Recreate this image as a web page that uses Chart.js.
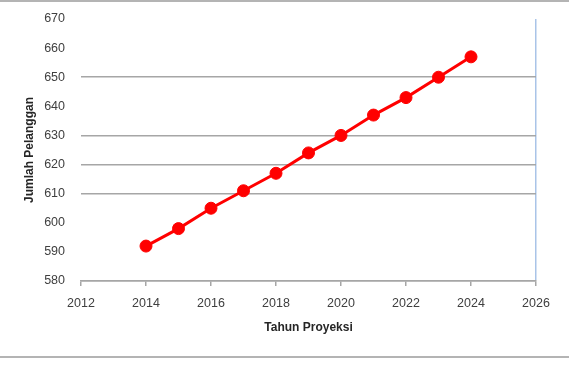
<!DOCTYPE html>
<html>
<head>
<meta charset="utf-8">
<script src="https://cdn.jsdelivr.net/npm/chart.js@4/dist/chart.umd.min.js"></script>
<style>
  html, body { margin: 0; padding: 0; background: #fff; }
  #wrap { position: relative; width: 569px; height: 370px; }
  #chart { position: absolute; left: 0; top: 0; }
  .rule { position: absolute; left: 0; width: 569px; height: 2px; background: #b4b4b4; }
</style>
</head>
<body>
<div id="wrap">
  <canvas id="chart" width="569" height="370"></canvas>
  <div class="rule" style="top:0"></div>
  <div class="rule" style="top:356px"></div>
</div>
<script>
const years = [2014, 2015, 2016, 2017, 2018, 2019, 2020, 2021, 2022, 2023, 2024];
const pelanggan = [592, 598, 605, 611, 617, 624, 630, 637, 643, 650, 657];
const hiddenGrid = [590, 600, 640, 660, 670];

const tickFont = { family: "'Liberation Sans', Arial, sans-serif", size: 12.5 };
const titleFont = { family: "'Liberation Sans', Arial, sans-serif", size: 12, weight: "bold" };

new Chart(document.querySelector("#chart"), {
  type: "line",
  data: {
    datasets: [
      {
        data: years.map((year, i) => ({ x: year, y: pelanggan[i] })),
        borderColor: "#ff0000",
        backgroundColor: "#ff0000",
        borderWidth: 3,
        pointRadius: 6,
        pointBorderWidth: 1,
        pointBackgroundColor: "#ff0000",
        pointBorderColor: "#ff0000",
        tension: 0,
      },
    ],
  },
  options: {
    responsive: false,
    animation: false,
    layout: { padding: { left: 20, right: 33, top: 19, bottom: 35 } },
    plugins: { legend: { display: false }, tooltip: { enabled: false } },
    scales: {
      x: {
        type: "linear",
        min: 2012,
        max: 2026,
        afterFit: (scale) => { scale.height = 54; },
        ticks: {
          stepSize: 2,
          color: "#404040",
          font: tickFont,
          padding: 10,
          callback: (v) => String(v),
        },
        grid: {
          color: (ctx) => (ctx.tick && ctx.tick.value === 2026 ? "#a9c4e8" : "transparent"),
          tickColor: "#a6a6a6",
          tickLength: 5,
          lineWidth: 1.5,
        },
        border: { display: true, color: "#a6a6a6", width: 1.5 },
        title: {
          display: true,
          text: "Tahun Proyeksi",
          color: "#262626",
          font: titleFont,
          padding: { top: 0, bottom: 0 },
        },
      },
      y: {
        min: 580,
        max: 670,
        afterFit: (scale) => { scale.width = 61; },
        ticks: {
          stepSize: 10,
          color: "#404040",
          font: tickFont,
          padding: 3,
        },
        grid: {
          tickLength: 13,
          tickColor: "transparent",
          color: (ctx) => (ctx.tick && hiddenGrid.includes(ctx.tick.value) ? "transparent" : "#a6a6a6"),
          lineWidth: 1.5,
        },
        border: { display: false },
        title: {
          display: true,
          text: "Jumlah Pelanggan",
          color: "#262626",
          font: titleFont,
          padding: { top: 2, bottom: 0 },
        },
      },
    },
  },
});
</script>
</body>
</html>
